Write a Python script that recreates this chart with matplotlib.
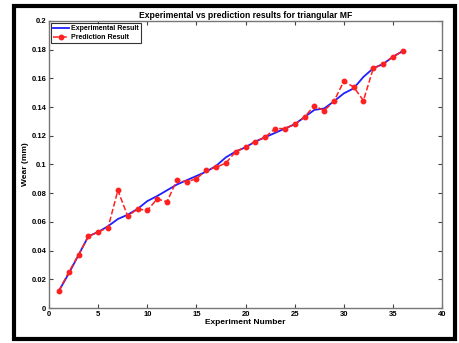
import matplotlib
matplotlib.use("Agg")
import matplotlib.pyplot as plt
import matplotlib.patches as patches

# experiment numbers and wear values (mm)
expt = list(range(1, 37))
experimental = [0.012, 0.024, 0.037, 0.050, 0.053, 0.057, 0.062, 0.065, 0.069, 0.0745,
                0.078, 0.082, 0.086, 0.089, 0.092, 0.095, 0.099, 0.105, 0.109, 0.112,
                0.116, 0.119, 0.122, 0.125, 0.128, 0.133, 0.138, 0.139, 0.144, 0.1495,
                0.153, 0.161, 0.167, 0.170, 0.175, 0.179]
prediction = [0.012, 0.025, 0.037, 0.050, 0.053, 0.056, 0.082, 0.064, 0.069, 0.068,
              0.076, 0.074, 0.089, 0.088, 0.090, 0.096, 0.098, 0.101, 0.109, 0.112,
              0.116, 0.119, 0.125, 0.125, 0.128, 0.133, 0.141, 0.1375, 0.144, 0.158,
              0.154, 0.1445, 0.167, 0.170, 0.175, 0.179]

xticks = [0, 5, 10, 15, 20, 25, 30, 35, 40]
yticks = [0, 0.02, 0.04, 0.06, 0.08, 0.1, 0.12, 0.14, 0.16, 0.18, 0.2]
ytick_labels = ["0", "0.02", "0.04", "0.06", "0.08", "0.1", "0.12", "0.14", "0.16", "0.18", "0.2"]

plt.rcParams['font.family'] = ['Liberation Sans', 'DejaVu Sans']
plt.rcParams['font.weight'] = 'bold'

fig = plt.figure(figsize=(4.59, 3.43), dpi=100)
ax = fig.add_axes([0.107, 0.102, 0.856, 0.837])

ax.plot(expt, experimental, color='#1f1fff', lw=1.3, label='Experimental Result')
ax.plot(expt, prediction, color='#ff2020', lw=1.1, ls='--', marker='o', ms=3.2,
        label='Prediction Result')

ax.set_xlim(0, 40)
ax.set_ylim(0, 0.2)
ax.set_xticks(xticks)
ax.set_yticks(yticks)
ax.set_yticklabels(ytick_labels)
ax.tick_params(direction='in', top=True, right=True, labelsize=5.5, length=3,
               color='#444444', width=0.8, pad=2)
for s in ax.spines.values():
    s.set_color('#777777')
    s.set_linewidth(1.0)

ax.set_title("Experimental vs prediction results for triangular MF", fontsize=6.2,
             fontweight='bold', pad=2)
ax.set_xlabel("Experiment Number", fontsize=6, fontweight='bold', labelpad=1)
ax.set_ylabel("Wear (mm)", fontsize=6, fontweight='bold', labelpad=2)

leg = ax.legend(loc='upper left', fontsize=5, frameon=True, fancybox=False,
                borderpad=0.3, handlelength=2.2, labelspacing=0.3,
                borderaxespad=0.3, handletextpad=0.4)
leg.get_frame().set_edgecolor('black')
leg.get_frame().set_linewidth(0.8)

# black border around the picture
fig.patches.append(patches.Rectangle((0.031, 0.012), 0.96, 0.97, transform=fig.transFigure,
                                     fill=False, ec='black', lw=3))

fig.savefig("out.png", dpi=100)
